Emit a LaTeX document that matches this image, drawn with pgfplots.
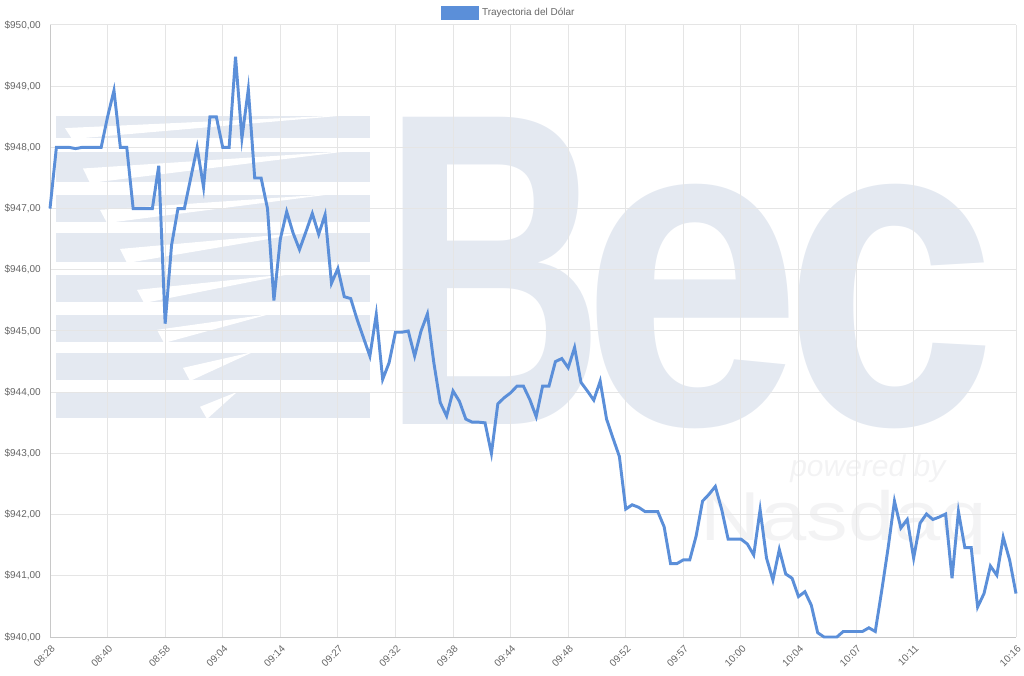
\documentclass[border=0pt]{standalone}
\usepackage{pgfplots}
\pgfplotsset{compat=1.18}
\usepackage{fontspec}
\setmainfont{Liberation Sans}
\definecolor{linecol}{RGB}{91,143,217}
\definecolor{labelgray}{RGB}{102,102,102}
\definecolor{gridgray}{RGB}{229,229,229}
\definecolor{axisgray}{RGB}{200,200,200}
\definecolor{wm}{RGB}{228,233,241}
\definecolor{wmn}{RGB}{243,243,244}
\begin{document}
\begin{tikzpicture}[x=0.75pt,y=0.75pt]
\path[use as bounding box] (0,0) rectangle (1024,675);
% watermark (logo): bars with thin white blades
\foreach \a/\b/\xl/\xr in {537/559/65/350,493/523/83/350,453/480/100/333,413/442/120/310,373/400/137/290,333/360/157/270,295/322/183/253,257/282/200/237}{
  \fill[wm] (56,\a) rectangle (370,\b);
  \fill[white] (\xl,{\a+0.45*(\b-\a)}) -- (\xl+7,\a-1) -- (\xr,\b+1) -- cycle;
}
\node[anchor=base west, inner sep=0pt, text=wm, xscale=0.69,
      font=\fontsize{335}{335}\selectfont\bfseries] at (382,250) {B};
\node[anchor=base west, inner sep=0pt, text=wm, xscale=0.89,
      font=\fontsize{335}{335}\selectfont\bfseries] at (581,250) {e};
\node[anchor=base west, inner sep=0pt, text=wm, xscale=0.86,
      font=\fontsize{335}{335}\selectfont\bfseries] at (783,250) {c};
\node[anchor=base west, inner sep=0pt, text=wmn,
      font=\fontsize{22.5}{24}\selectfont\itshape] at (790,199) {powered by};
\node[anchor=base west, inner sep=0pt, text=wmn, xscale=1.2,
      font=\fontsize{52}{52}\selectfont] at (700,135) {Nasdaq};
\begin{axis}[
  at={(37.5pt,28.5pt)}, anchor=south west,
  width=724.5pt, height=459pt, scale only axis,
  xmin=0, xmax=151, ymin=940, ymax=950,
  clip=false,
  xtick={0,9,18,27,36,45,54,63,72,81,90,99,108,117,126,135,151},
  xticklabels={08:28,08:40,08:58,09:04,09:14,09:27,09:32,09:38,09:44,09:48,09:52,09:57,10:00,10:04,10:07,10:11,10:16},
  ytick={940,941,942,943,944,945,946,947,948,949,950},
  yticklabels={{\$940,00},{\$941,00},{\$942,00},{\$943,00},{\$944,00},{\$945,00},{\$946,00},{\$947,00},{\$948,00},{\$949,00},{\$950,00}},
  grid=major,
  major grid style={draw=gridgray, line width=0.75pt},
  axis x line*=bottom, axis y line*=left,
  axis line style={-, draw=axisgray, line width=0.75pt},
  major tick length=0pt,
  tick label style={font=\fontsize{7.5}{9}\selectfont, text=labelgray},
  yticklabel style={anchor=east, inner sep=0pt, xshift=-6.75pt},
  xticklabel style={rotate=45, anchor=east, inner sep=0pt, xshift=-3.5pt, yshift=-7pt},
  legend style={at={(axis description cs:0.4755,1)}, anchor=center, yshift=9pt,
    draw=none, fill=none, font=\fontsize{7.5}{9}\selectfont, text=labelgray,
    inner sep=0pt},
  legend image code/.code={\fill[linecol] (0pt,-4.5pt) rectangle (26.25pt,4.5pt);},
]
\addplot[color=linecol, line width=2.2pt, line join=miter, mark=none] table[x=i,y=v] {
i v
0 947.00
1 948.00
2 948.00
3 948.00
4 947.98
5 948.00
6 948.00
7 948.00
8 948.00
9 948.50
10 948.93
11 948.00
12 948.00
13 947.00
14 947.00
15 947.00
16 947.00
17 947.70
18 945.12
19 946.40
20 947.00
21 947.00
22 947.50
23 948.00
24 947.35
25 948.50
26 948.50
27 948.00
28 948.00
29 949.48
30 948.15
31 948.95
32 947.50
33 947.50
34 947.00
35 945.50
36 946.50
37 946.95
38 946.60
39 946.33
40 946.62
41 946.92
42 946.58
43 946.90
44 945.78
45 946.02
46 945.56
47 945.53
48 945.19
49 944.89
50 944.59
51 945.27
52 944.21
53 944.48
54 944.98
55 944.98
56 945.00
57 944.59
58 945.00
59 945.28
60 944.48
61 943.83
62 943.61
63 944.02
64 943.85
65 943.56
66 943.51
67 943.51
68 943.50
69 943.00
70 943.81
71 943.91
72 943.99
73 944.10
74 944.10
75 943.88
76 943.60
77 944.10
78 944.10
79 944.50
80 944.55
81 944.40
82 944.73
83 944.16
84 944.02
85 943.87
86 944.18
87 943.56
88 943.25
89 942.95
90 942.09
91 942.16
92 942.12
93 942.05
94 942.05
95 942.05
96 941.80
97 941.20
98 941.20
99 941.26
100 941.26
101 941.65
102 942.22
103 942.33
104 942.46
105 942.08
106 941.60
107 941.60
108 941.60
109 941.52
110 941.34
111 942.08
112 941.29
113 940.93
114 941.43
115 941.03
116 940.96
117 940.66
118 940.74
119 940.52
120 940.07
121 940.00
122 940.00
123 940.00
124 940.09
125 940.09
126 940.09
127 940.09
128 940.15
129 940.09
130 940.75
131 941.45
132 942.22
133 941.78
134 941.92
135 941.29
136 941.86
137 942.01
138 941.92
139 941.96
140 942.01
141 940.96
142 942.05
143 941.46
144 941.46
145 940.49
146 940.71
147 941.16
148 941.01
149 941.63
150 941.26
151 940.71
};
\addlegendentry{Trayectoria del Dólar}
\end{axis}
\end{tikzpicture}
\end{document}
